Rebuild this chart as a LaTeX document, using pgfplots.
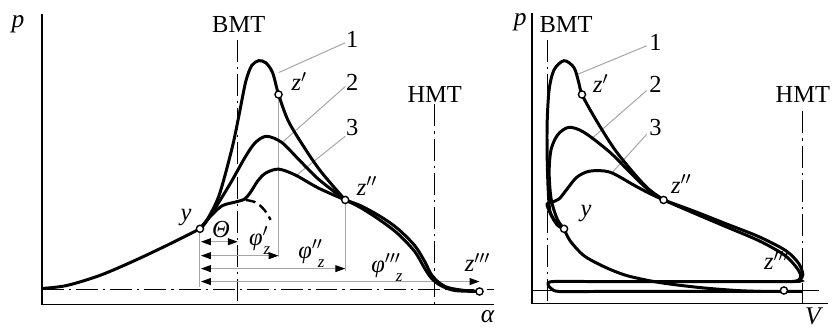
\documentclass[border=0pt]{standalone}
\usepackage{fontspec}
\setmainfont{Liberation Serif}
\usepackage{pgfplots}
\pgfplotsset{compat=1.18}
\usetikzlibrary{arrows.meta}
\tikzset{
  curve/.style={black, line width=1.5pt, smooth, tension=0.5},
  axline/.style={black, line width=0.8pt},
  thin/.style={black!35, line width=0.5pt},
  dd/.style={black, line width=0.6pt, dash pattern=on 11pt off 2.5pt on 1.2pt off 2.5pt},
  dim/.style={black!35, line width=0.5pt, {Triangle[color=black,length=5pt,width=3.5pt]}-{Triangle[color=black,length=5pt,width=3.5pt]}},
  lab/.style={font=\fontsize{12.3}{13}\selectfont, inner sep=1pt},
  ilab/.style={font=\fontsize{12.8}{13}\selectfont\itshape, inner sep=1pt},
}
\newcommand{\phz}[1]{\textit{φ}$^{#1}$\hspace{-2.5pt}\raisebox{-4.5pt}{\fontsize{8.5}{9}\selectfont\textit{z}}}
\begin{document}
\begin{tikzpicture}
\begin{axis}[scale only axis, width=416pt, height=166pt,
  xmin=0, xmax=832, ymin=0, ymax=332, y dir=reverse,
  hide axis, clip=false,
  pt/.style={only marks, mark=*, mark size=1.8pt, mark options={fill=white, draw=black, line width=0.7pt}},
]
\addplot[draw=none] coordinates {(0,0) (832,332)};
% ================= LEFT PANEL =================
\addplot[axline] coordinates {(42,14) (42,306) (497,306)};
\addplot[dd] coordinates {(42,291) (497,291)};
\addplot[dd] coordinates {(239,40) (239,306)};
\addplot[dd] coordinates {(437,105) (437,306)};
% thin guides
\addplot[thin] coordinates {(201,233) (201,288)};
\addplot[thin] coordinates {(280,98) (280,258)};
\addplot[thin] coordinates {(347,204) (347,272)};
\addplot[thin] coordinates {(280,73) (347,43)};
\addplot[thin] coordinates {(285,142) (347,87)};
\addplot[thin] coordinates {(297,177) (347,137)};
% dimension arrows
\addplot[dim] coordinates {(202,243) (239,243)};
\addplot[dim] coordinates {(202,257) (280,257)};
\addplot[dim] coordinates {(202,270) (347,270)};
\addplot[dim] coordinates {(202,283) (482,283)};
% compression
\addplot[curve] coordinates {(42,290) (67,287) (100,277) (133,263) (167,247) (201,230)};
% curve 1
\addplot[curve] coordinates {(201,230) (207,223) (220,197) (233,150) (240,117) (247,82) (253,66) (260,61) (267,63) (274,73) (280,95) (290,122) (307,150) (323,173) (347,201)};
% curve 2
\addplot[curve] coordinates {(201,230) (210,219) (230,187) (247,157) (257,143) (268,137) (283,143) (300,160) (320,180) (347,201)};
% curve 3
\addplot[curve] coordinates {(201,230) (210,219) (223,207) (237,203) (246,200) (252,193) (259,182) (267,174) (280,170) (297,176) (320,189) (347,201)};
% motoring dashed
\addplot[black, line width=1.2pt, dash pattern=on 5pt off 2.5pt, smooth] coordinates {(247,201) (256,203) (263,208) (268,214) (272,221)};
% expansion
\addplot[curve] coordinates {(347,201) (363,207) (383,218) (400,230) (417,247) (427,263) (433,275) (440,283) (450,289) (467,292) (482,293)};
\addplot[curve] coordinates {(347,201) (363,209) (383,222) (400,235) (417,253) (427,270) (434,280) (443,287) (457,292) (482,293)};
\addplot[pt] coordinates {(201,230) (280,95) (347,201) (482,293)};
% labels
\node[ilab] at (axis cs:18,24) {p};
\node[lab] at (axis cs:240,25) {BMT};
\node[lab] at (axis cs:437,95) {HMT};
\node[ilab] at (axis cs:490,318) {α};
\node[lab] at (axis cs:354,40) {1};
\node[lab] at (axis cs:354,83) {2};
\node[lab] at (axis cs:354,128) {3};
\node[lab] at (axis cs:301,82) {\textit{z}$^{\prime}$};
\node[lab] at (axis cs:369,187) {\textit{z}$^{\prime\prime}$};
\node[lab] at (axis cs:480,264) {\textit{z}$^{\prime\prime\prime}$};
\node[lab] at (axis cs:187,219) {\textit{y}};
\node[lab] at (axis cs:222,231) {\textit{Θ}};
\node[lab] at (axis cs:261,242) {\phz{\prime}};
\node[lab] at (axis cs:313,255) {\phz{\prime\prime}};
\node[lab] at (axis cs:389,269) {\phz{\prime\prime\prime}};
% ================= RIGHT PANEL =================
\addplot[axline] coordinates {(535,13) (535,305) (832,305)};
\addplot[black, line width=0.6pt] coordinates {(535,292) (823,292)};
\addplot[dd] coordinates {(550,40) (550,305)};
\addplot[dd] coordinates {(807,112) (807,305)};
\addplot[thin] coordinates {(580,75) (650,46)};
\addplot[thin] coordinates {(594,140) (650,91)};
\addplot[thin] coordinates {(614,175) (650,135)};
% curve 1
\addplot[curve] coordinates {(567,230) (560,226) (553,213) (551,190) (550,157) (550,123) (552,90) (557,70) (567,61) (577,68) (582,84) (585,95) (597,117) (617,149) (637,174) (652,190) (667,201)};
% curve 2
\addplot[curve] coordinates {(567,230) (560,220) (554,200) (552,173) (554,150) (561,135) (572,128) (587,133) (613,153) (637,177) (652,191) (667,201)};
% curve 3
\addplot[curve] coordinates {(567,230) (558,222) (552,212) (550,205) (555,203) (562,200) (570,190) (580,178) (593,172) (613,173) (637,186) (652,194) (667,201)};
% expansion + exhaust + intake
\addplot[curve] coordinates {(667,201) (697,212) (730,225) (763,238) (790,252) (803,265) (807,276) (804,281) (797,283) (700,283) (600,283) (556,283) (551,286) (554,290) (562,293) (600,293) (700,293) (807,293)};
\addplot[curve] coordinates {(667,201) (697,214) (730,228) (763,242) (788,256) (800,268) (805,277) (802,282) (795,283)};
% compression
\addplot[curve] coordinates {(567,230) (573,242) (587,257) (607,268) (630,277) (663,284) (703,289) (740,292) (765,293)};
\addplot[pt] coordinates {(567,230) (585,95) (667,201) (788,292)};
% labels
\node[ilab] at (axis cs:523,22) {p};
\node[lab] at (axis cs:569,25) {BMT};
\node[lab] at (axis cs:807,95) {HMT};
\node[ilab] at (axis cs:817,318) {V};
\node[lab] at (axis cs:659,43) {1};
\node[lab] at (axis cs:659,85) {2};
\node[lab] at (axis cs:659,128) {3};
\node[lab] at (axis cs:604,84) {\textit{z}$^{\prime}$};
\node[lab] at (axis cs:685,185) {\textit{z}$^{\prime\prime}$};
\node[lab] at (axis cs:781,262) {\textit{z}$^{\prime\prime\prime}$};
\node[lab] at (axis cs:589,215) {\textit{y}};
\end{axis}
\end{tikzpicture}
\end{document}
